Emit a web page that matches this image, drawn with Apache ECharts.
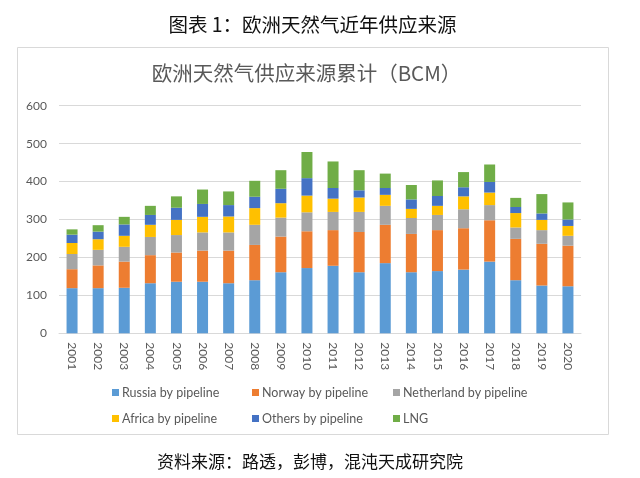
<!DOCTYPE html>
<html>
<head>
<meta charset="utf-8">
<script src="https://cdn.jsdelivr.net/npm/echarts@6/dist/echarts.min.js"></script>
<style>
html,body{margin:0;padding:0;background:#fff;}
#c{width:640px;height:478px;}
</style>
</head>
<body>
<div id="c"></div>
<script>
var years = ['2001','2002','2003','2004','2005','2006','2007','2008','2009','2010','2011','2012','2013','2014','2015','2016','2017','2018','2019','2020'];
var seriesNames = ['Russia by pipeline','Norway by pipeline','Netherland by pipeline','Africa by pipeline','Others by pipeline','LNG'];
var russia     = [119,119,120,132,136,136,132,140,161,172,178,161,185,161,164,168,189,140,126,124];
var norway     = [ 50, 60, 69, 74, 77, 82, 86, 93, 94, 97, 94,106,101,101,108,109,109,109,110,107];
var netherland = [ 40, 41, 39, 48, 46, 48, 48, 53, 50, 50, 48, 53, 50, 42, 40, 50, 40, 30, 36, 26];
var africa     = [ 29, 28, 29, 32, 40, 41, 42, 44, 38, 44, 35, 38, 29, 24, 24, 34, 33, 38, 27, 26];
var others     = [ 22, 20, 30, 26, 32, 34, 30, 30, 38, 46, 28, 19, 18, 25, 26, 24, 28, 16, 17, 17];
var lng        = [ 14, 17, 20, 24, 30, 38, 36, 42, 49, 69, 70, 53, 38, 38, 41, 40, 46, 24, 51, 45];
var yTicks = [0,100,200,300,400,500,600];

var colors = ['#5B9BD5','#ED7D31','#A5A5A5','#FFC000','#4472C4','#70AD47'];
var values = [russia, norway, netherland, africa, others, lng];
var latin = 'Lato, "Noto Sans", sans-serif';
var cjk = '"Noto Sans CJK SC", sans-serif';

var legendPos = [[107,381],[247,381],[388,381],[107,407],[247,407],[388,407]];
var legends = seriesNames.map(function(n, i){
  return {
    data: [n], left: legendPos[i][0], top: legendPos[i][1],
    icon: 'rect', itemWidth: 7, itemHeight: 7, itemGap: 0,
    textStyle: {color:'#595959', fontSize: 12.5, fontFamily: latin, padding:[0,0,0,-2]},
    selectedMode: false
  };
});

var chart = echarts.init(document.getElementById('c'), null, {renderer:'canvas'});
chart.setOption({
  animation: false,
  color: colors,
  graphic: [
    {type:'rect', shape:{x:17.5,y:47.5,width:591,height:387}, style:{fill:'none', stroke:'#D9D9D9', lineWidth:1}},
    {type:'text', x:312.5, y:25, style:{text:'图表 1：欧洲天然气近年供应来源', font:'19.5px "Noto Sans CJK SC"', fill:'#111', align:'center', verticalAlign:'middle'}},
    {type:'text', x:310, y:462, style:{text:'资料来源：路透，彭博，混沌天成研究院', font:'17px "Noto Sans CJK SC"', fill:'#111', align:'center', verticalAlign:'middle'}},
    {type:'text', x:306.5, y:73, style:{text:'欧洲天然气供应来源累计（BCM）', font:'20.5px "Noto Sans CJK SC"', fill:'#595959', align:'center', verticalAlign:'middle'}}
  ],
  legend: legends,
  grid: {left: 59, right: 59, top: 105.7, bottom: 144.7},
  xAxis: {
    type: 'category', data: years,
    axisLine: {show:true, lineStyle:{color:'#D9D9D9'}},
    axisTick: {show:false},
    axisLabel: {rotate:-90, color:'#595959', fontSize:12, fontFamily: latin, margin: 9, interval: 0}
  },
  yAxis: {
    type: 'value', min: yTicks[0], max: yTicks[yTicks.length-1], interval: 100,
    axisLine: {show:false}, axisTick: {show:false},
    splitLine: {lineStyle:{color:'#D9D9D9'}},
    axisLabel: {color:'#595959', fontSize:12, fontFamily: latin, margin: 12}
  },
  series: seriesNames.map(function(n, i){
    return {name: n, type: 'bar', stack: 'total', barWidth: 11, data: values[i], itemStyle:{color: colors[i]}};
  })
});
</script>
</body>
</html>
